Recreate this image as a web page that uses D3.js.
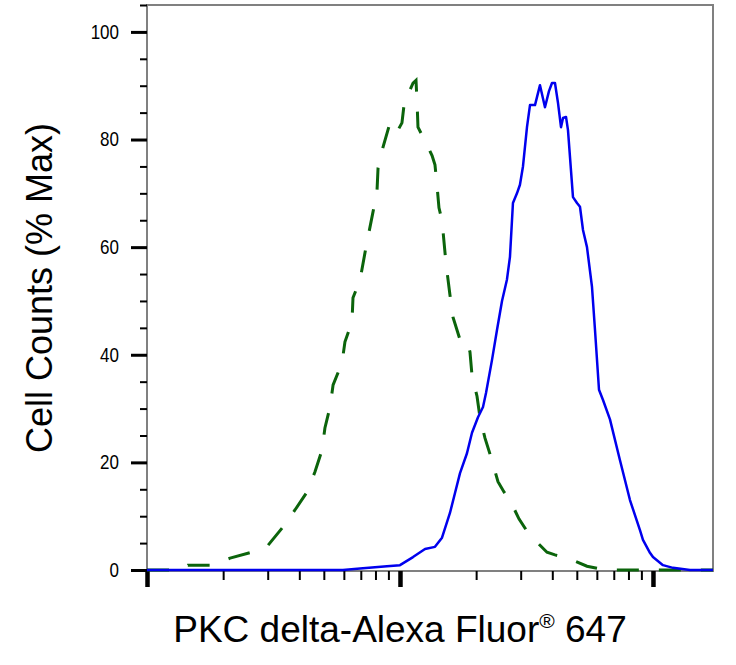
<!DOCTYPE html>
<html>
<head>
<meta charset="utf-8">
<script src="https://cdn.jsdelivr.net/npm/d3@7"></script>
<style>
  html, body { margin: 0; padding: 0; background: #fff; }
  svg { display: block; }
  text { font-family: "Liberation Sans", Arial, Helvetica, sans-serif; fill: #000; }
</style>
</head>
<body>
<svg id="chart" width="736" height="665"></svg>
<script>
// ---- data (fluorescence intensity vs. % of max) ----
const blueIntensity = [100, 595, 695, 888, 1000, 1126, 1256, 1375, 1466, 1576, 1650, 1727, 1840, 1926, 2034, 2129, 2188, 2310, 2418, 2531, 2648, 2721, 2796, 2900, 2980, 3063, 3177, 3265, 3417, 3576, 3742, 3881, 3989, 4099, 4213, 4330, 4410, 4532, 4613, 4829, 5008, 5146, 5289, 5485, 5741, 5900, 6119, 6346, 6761, 7406, 8111, 8884, 9130, 9730, 10000, 10953, 11998, 14004, 17270];
const blueValues = [0, 0, 0.3, 0.7, 0.9, 2.4, 3.9, 4.3, 6, 10.6, 14.3, 18, 21.7, 25.5, 28.4, 30.3, 32.9, 39, 44.6, 50, 54, 58.2, 68.2, 70, 71.6, 75, 82.3, 86.4, 86.4, 90.1, 86, 89, 90.5, 90.5, 86.8, 82.3, 84, 84.2, 81.8, 69.3, 68.2, 67.5, 63.2, 60, 52.6, 44.6, 33.5, 31.6, 28, 20.4, 13, 7.4, 5.6, 3.2, 2.4, 0.9, 0.4, 0, 0];

const greenIntensity = [100, 135, 145, 178, 213, 255, 301, 342, 385, 429, 461, 492, 505, 529, 544, 590, 606, 646, 652, 695, 734, 782, 811, 819, 857, 913, 973, 1018, 1047, 1095, 1126, 1157, 1168, 1178, 1279, 1339, 1375, 1400, 1426, 1466, 1520, 1576, 1620, 1727, 1840, 1891, 1926, 2016, 2072, 2168, 2310, 2440, 2577, 2721, 2953, 3148, 3355, 3811, 4099, 4613, 5485, 6173, 6639, 17270];
const greenValues = [0, 0, 0.9, 0.9, 2.2, 3.2, 4.6, 7.8, 11.2, 14.5, 18.2, 22.3, 26.4, 30.3, 34.4, 38.5, 42.4, 46.1, 50.6, 53.9, 60, 66.5, 70.3, 74.7, 78.6, 83.1, 81.4, 83.1, 88, 89.2, 90.5, 91, 87, 82.3, 79, 77, 75.3, 71.6, 67.3, 65, 57, 51.1, 47, 42.8, 42.8, 40.5, 36.2, 32.3, 28.3, 24.5, 20.4, 16.4, 14.5, 13, 9.5, 7.5, 5.9, 3.3, 2.8, 2.2, 0.7, 0.2, 0, 0];

const xMajorTicks = [100, 1000, 10000];
const xMinorTicks = [200, 300, 400, 500, 600, 700, 800, 900, 2000, 3000, 4000, 5000, 6000, 7000, 8000, 9000];
const yMajorTicks = [0, 20, 40, 60, 80, 100];
const yMinorTicks = [5, 10, 15, 25, 30, 35, 45, 50, 55, 65, 70, 75, 85, 90, 95, 105];

const xTitle = "PKC delta-Alexa Fluor";
const xTitleMark = "®";
const xTitleEnd = " 647";
const yTitle = "Cell Counts (% Max)";

// ---- layout ----
const svg = d3.select("#chart");
const pLeft = 147, pRight = 713, pTop = 5, pBottom = 570, axisY = 571;

const x = d3.scaleLog().domain([100, 17270]).range([pLeft, pRight]);
const y = d3.scaleLinear().domain([0, 105]).range([pBottom, pTop]);

// frame
svg.append("rect")
  .attr("x", pLeft).attr("y", pTop)
  .attr("width", pRight - pLeft).attr("height", axisY - pTop)
  .attr("fill", "none").attr("stroke", "#808080").attr("stroke-width", 2);

// y axis minor
const yMinorAxis = svg.append("g").attr("transform", `translate(${pLeft},0)`)
  .call(d3.axisLeft(y).tickValues(yMinorTicks).tickSize(7).tickSizeOuter(0).tickFormat(""));
yMinorAxis.select(".domain").remove();
yMinorAxis.selectAll(".tick line").attr("stroke", "#000").attr("stroke-width", 2);

// y axis major
const yMajorAxis = svg.append("g").attr("transform", `translate(${pLeft},0)`)
  .call(d3.axisLeft(y).tickValues(yMajorTicks).tickSize(16).tickSizeOuter(0).tickFormat(d3.format("d")));
yMajorAxis.select(".domain").remove();
yMajorAxis.selectAll(".tick line").attr("stroke", "#000").attr("stroke-width", 3);
yMajorAxis.selectAll(".tick text")
  .attr("x", 0)
  .attr("transform", "translate(-28,0) scale(0.85,1)")
  .attr("font-size", 20)
  .attr("font-family", "'Liberation Sans', Arial, sans-serif")
  .attr("text-anchor", "end")
  .attr("fill", "#000");

// x axis minor
const xMinorAxis = svg.append("g").attr("transform", `translate(0,${axisY})`)
  .call(d3.axisBottom(x).tickValues(xMinorTicks).tickSize(9).tickSizeOuter(0).tickFormat(""));
xMinorAxis.select(".domain").remove();
xMinorAxis.selectAll(".tick line").attr("stroke", "#000").attr("stroke-width", 2);

// x axis major
const xMajorAxis = svg.append("g").attr("transform", `translate(0,${axisY})`)
  .call(d3.axisBottom(x).tickValues(xMajorTicks).tickSize(16).tickSizeOuter(0).tickFormat(""));
xMajorAxis.select(".domain").remove();
xMajorAxis.selectAll(".tick line").attr("stroke", "#000").attr("stroke-width", 4.5);

// curves
const line = d3.line().x(d => x(d[0])).y(d => y(d[1]));
const greenData = greenIntensity.map((v, i) => [v, greenValues[i]]);
const blueData = blueIntensity.map((v, i) => [v, blueValues[i]]);

svg.append("path").datum(greenData)
  .attr("d", line)
  .attr("fill", "none")
  .attr("stroke", "#0b640b")
  .attr("stroke-width", 3)
  .attr("stroke-dasharray", "22,20");

svg.append("path").datum(blueData)
  .attr("d", line)
  .attr("fill", "none")
  .attr("stroke", "#0000ee")
  .attr("stroke-width", 2.5)
  .attr("stroke-linejoin", "round");

// titles
const xt = svg.append("text")
  .attr("x", 400).attr("y", 642)
  .attr("text-anchor", "middle")
  .attr("font-size", 37);
xt.append("tspan").text(xTitle);
xt.append("tspan").attr("font-size", 21).attr("dy", -14).text(xTitleMark);
xt.append("tspan").attr("dy", 14).text(xTitleEnd);

svg.append("text")
  .attr("transform", "translate(52,288) rotate(-90)")
  .attr("text-anchor", "middle")
  .attr("font-size", 36)
  .text(yTitle);
</script>
</body>
</html>
